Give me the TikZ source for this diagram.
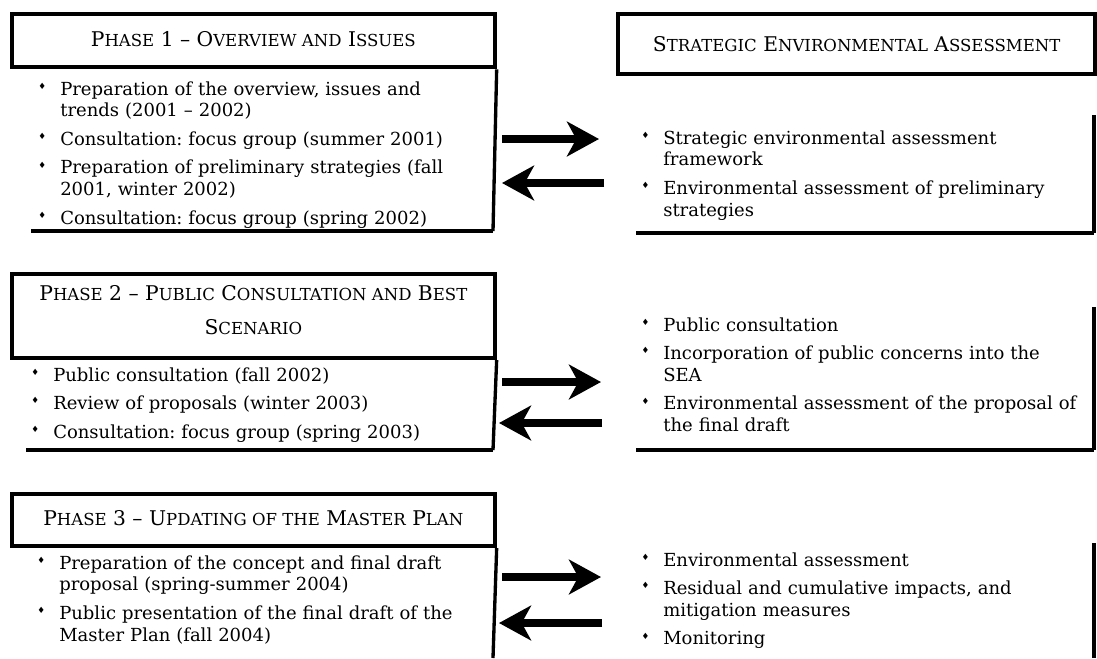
\documentclass[tikz,border=0pt]{standalone}
\usepackage{fontspec}
\setmainfont{DejaVu Serif}
\newfontfamily\symf{DejaVu Sans}
\usetikzlibrary{arrows.meta}
\frenchspacing
\newcommand\smc[1]{{\fontsize{12.4}{14}\selectfont #1}}
\newcommand\bul{\llap{\raisebox{4.3pt}{\symf\fontsize{6.5}{6.5}\selectfont ♦}\hspace{10.5pt}}}
\newcommand\itm[1]{\leavevmode\bul #1\par}
\newcommand\isep{\vskip5.1pt}
\tikzset{
  x=0.75pt, y=-0.75pt,
  hdr/.style={draw, line width=3pt, inner sep=0pt, align=center,
    font=\fontsize{15.2}{25.5}\selectfont\frenchspacing},
  lst/.style={anchor=base west, inner sep=0pt, align=left, text width=330pt,
    font=\fontsize{13.5}{16.3}\selectfont\frenchspacing},
  bline/.style={line width=3pt},
  rline/.style={line width=2.5pt},
  arr/.style={line width=6pt, -{Stealth[length=24pt, width=26pt, inset=7pt]}},
}
\begin{document}
\begin{tikzpicture}
\useasboundingbox (0,0) rectangle (1097,658);
% ---------- Phase 1 ----------
\node[hdr, minimum width=362pt, minimum height=40pt, text depth=3pt, anchor=north west] (h1) at (10,12)
  {P\smc{HASE} 1 -- O\smc{VERVIEW AND} I\smc{SSUES}};
\node[lst] (l1) at (60,95) {%
  \itm{Preparation of the overview, issues and\\trends (2001 -- 2002)}\isep
  \itm{Consultation: focus group (summer 2001)}\isep
  \itm{Preparation of preliminary strategies (fall\\2001, winter 2002)}\isep
  \itm{Consultation: focus group (spring 2002)}};
\coordinate (b1r) at (493,231);
\draw[rline] (h1.south east) -- (b1r);
\draw[bline] (31,231) -- (b1r);
% ---------- SEA header ----------
\node[hdr, minimum width=358pt, minimum height=45pt, anchor=north west] (hs) at (616,12)
  {S\smc{TRATEGIC} E\smc{NVIRONMENTAL} A\smc{SSESSMENT}};
\node[lst] (s1) at (663,144) {%
  \itm{Strategic environmental assessment\\framework}\isep
  \itm{Environmental assessment of preliminary\\strategies}};
\coordinate (s1r) at (1094,233);
\draw[rline] (1094,115) -- (s1r);
\draw[bline] (636,233) -- (s1r);
% arrows phase 1
\coordinate (a1s) at (502,139); \coordinate (a1e) at (599,139);
\coordinate (a2s) at (604,183); \coordinate (a2e) at (502,183);
\draw[arr] (a1s) -- (a1e);
\draw[arr] (a2s) -- (a2e);
% ---------- Phase 2 ----------
\node[hdr, minimum width=362pt, minimum height=63pt, text depth=9pt, anchor=north west] (h2) at (10,272)
  {P\smc{HASE} 2 -- P\smc{UBLIC} C\smc{ONSULTATION AND} B\smc{EST}\\S\smc{CENARIO}};
\node[lst] (l2) at (53,381) {%
  \itm{Public consultation (fall 2002)}\isep
  \itm{Review of proposals (winter 2003)}\isep
  \itm{Consultation: focus group (spring 2003)}};
\coordinate (b2r) at (493,450);
\draw[rline] (h2.south east) -- (b2r);
\draw[bline] (26,450) -- (b2r);
\node[lst] (s2) at (663,331) {%
  \itm{Public consultation}\isep
  \itm{Incorporation of public concerns into the\\SEA}\isep
  \itm{Environmental assessment of the proposal of\\the final draft}};
\coordinate (s2r) at (1094,450);
\draw[rline] (1094,307) -- (s2r);
\draw[bline] (636,450) -- (s2r);
\coordinate (a3s) at (502,382); \coordinate (a3e) at (601,382);
\coordinate (a4s) at (602,423); \coordinate (a4e) at (499,423);
\draw[arr] (a3s) -- (a3e);
\draw[arr] (a4s) -- (a4e);
% ---------- Phase 3 ----------
\node[hdr, minimum width=362pt, minimum height=39pt, text depth=3pt, anchor=north west] (h3) at (10,492)
  {P\smc{HASE} 3 -- U\smc{PDATING OF THE} M\smc{ASTER} P\smc{LAN}};
\node[lst] (l3) at (59,569) {%
  \itm{Preparation of the concept and final draft\\proposal (spring-summer 2004)}\isep
  \itm{Public presentation of the final draft of the\\Master Plan (fall 2004)}};
\coordinate (b3r) at (493,658);
\draw[rline] (h3.south east) -- (b3r);
\node[lst] (s3) at (663,566) {%
  \itm{Environmental assessment}\isep
  \itm{Residual and cumulative impacts, and\\mitigation measures}\isep
  \itm{Monitoring}};
\coordinate (s3t) at (1094,543); \coordinate (s3b) at (1094,658);
\draw[rline] (s3t) -- (s3b);
\coordinate (a5s) at (502,577); \coordinate (a5e) at (601,577);
\coordinate (a6s) at (602,623); \coordinate (a6e) at (499,623);
\draw[arr] (a5s) -- (a5e);
\draw[arr] (a6s) -- (a6e);
\end{tikzpicture}
\end{document}
